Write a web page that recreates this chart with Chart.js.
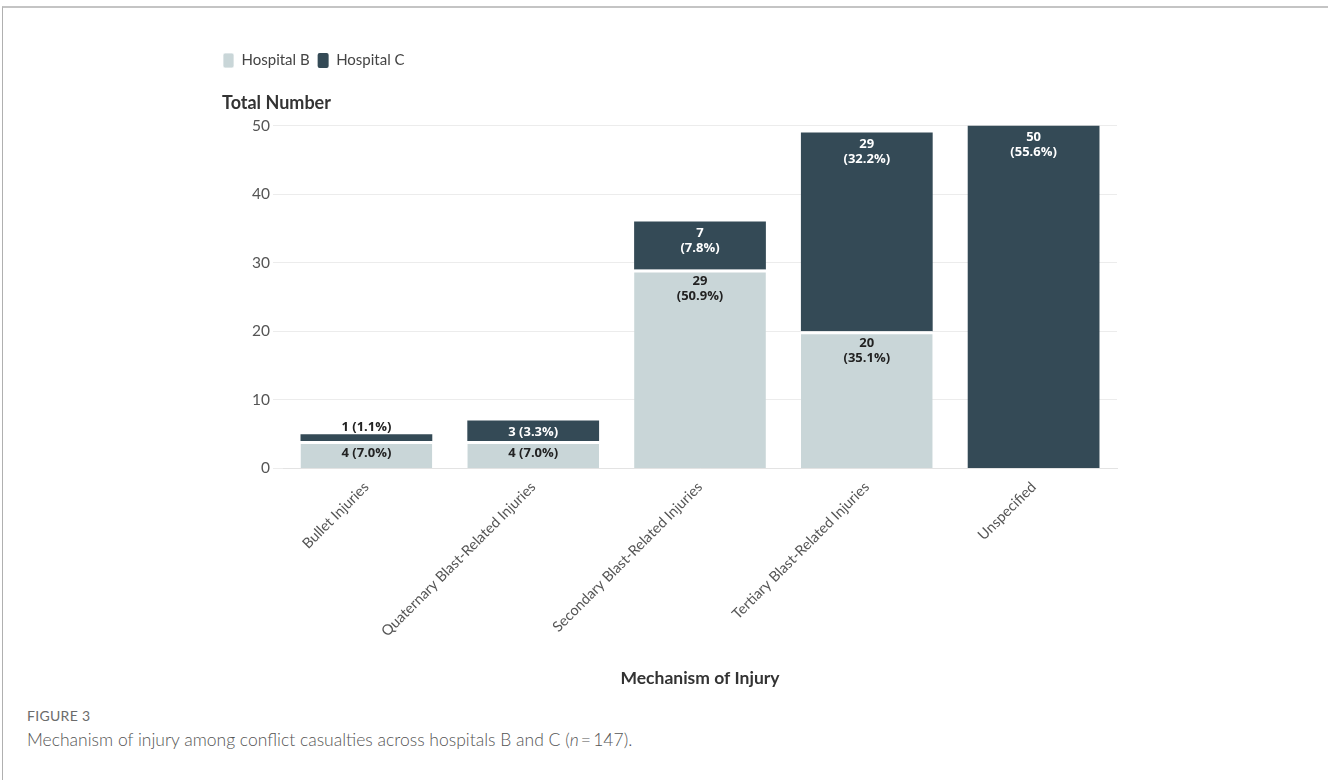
<!DOCTYPE html>
<html>
<head>
<meta charset="utf-8">
<script src="https://cdn.jsdelivr.net/npm/chart.js@4/dist/chart.umd.min.js"></script>
<style>
  html, body { margin: 0; padding: 0; background: #fff; }
  body { width: 1328px; height: 780px; position: relative; overflow: hidden; font-family: Lato, "Open Sans", sans-serif; }
  .frame { position: absolute; left: 2px; top: 6px; right: 0; bottom: 0; border-top: 2px solid #c4c4c4; border-left: 1px solid #b0b0b0; }
  .wrap { position: absolute; left: 212px; top: 45px; width: 940px; height: 648px; }
  .fig { position: absolute; left: 27px; top: 707px; font-size: 14px; color: #6b6b6b; letter-spacing: 0.3px; }
  .cap { position: absolute; left: 27px; top: 729px; font-size: 17.5px; color: #555; font-weight: 300; }
</style>
</head>
<body>
<div class="frame"></div>
<div class="wrap"><canvas id="injuryChart"></canvas></div>
<div class="fig">FIGURE 3</div>
<div class="cap">Mechanism of injury among conflict casualties across hospitals B and C (<i>n</i>&#8201;=&#8201;147).</div>

<script>
const CATEGORIES = [
  "Bullet Injuries",
  "Quaternary Blast-Related Injuries",
  "Secondary Blast-Related Injuries",
  "Tertiary Blast-Related Injuries",
  "Unspecified",
];

const HOSPITAL_B = [4, 4, 29, 20, 0];
const HOSPITAL_C = [1, 3, 7, 29, 50];

const Y_TICKS = [0, 10, 20, 30, 40, 50];

const LIGHT = "#c9d6d8";
const DARK = "#344a56";

const sum = (arr) => arr.reduce((a, b) => a + b, 0);
const TOTALS = [sum(HOSPITAL_B), sum(HOSPITAL_C)];

// labels at the top of each stacked segment
const segmentLabels = {
  id: "segmentLabels",
  afterDatasetsDraw(chart) {
    const ctx = chart.ctx;
    ctx.save();
    ctx.textAlign = "center";
    ctx.textBaseline = "middle";
    ctx.font = "bold 13px 'Open Sans', sans-serif";
    chart.data.datasets.forEach((ds, di) => {
      const meta = chart.getDatasetMeta(di);
      meta.data.forEach((bar, i) => {
        const v = ds.data[i];
        if (!v) return;
        const pct = ((v / TOTALS[di]) * 100).toFixed(1) + "%";
        const h = bar.base - bar.y;
        const x = bar.x;
        if (h < 15) {
          ctx.fillStyle = "#222";
          ctx.fillText(`${v} (${pct})`, x, bar.y - 7);
        } else if (h < 35) {
          ctx.fillStyle = di === 0 ? "#222" : "#fff";
          ctx.fillText(`${v} (${pct})`, x, bar.y + 12);
        } else {
          ctx.fillStyle = di === 0 ? "#222" : "#fff";
          ctx.fillText(`${v}`, x, bar.y + 12);
          ctx.fillText(`(${pct})`, x, bar.y + 27);
        }
      });
    });
    ctx.restore();
  },
};

// nudge the legend so its first box lines up with the axis title
const legendNudge = {
  id: "legendNudge",
  afterLayout(chart) {
    if (chart.legend) chart.legend.left -= 7;
  },
};

function initChart() {
  const canvas = document.getElementById("injuryChart");
  if (!canvas || typeof Chart === "undefined") return;

  new Chart(canvas.getContext("2d"), {
    type: "bar",
    data: {
      labels: CATEGORIES,
      datasets: [
        {
          label: "Hospital B",
          data: HOSPITAL_B,
          backgroundColor: LIGHT,
          borderColor: "#fff",
          borderWidth: { top: 3, left: 0, right: 0, bottom: 0 },
          borderSkipped: false,
        },
        {
          label: "Hospital C",
          data: HOSPITAL_C,
          backgroundColor: DARK,
          borderWidth: 0,
        },
      ],
    },
    options: {
      responsive: true,
      maintainAspectRatio: false,
      animation: false,
      categoryPercentage: 1,
      barPercentage: 0.79,
      layout: { padding: { left: 10, right: 35, top: 0, bottom: 0 } },
      scales: {
        x: {
          stacked: true,
          grid: { display: false },
          border: { display: true, color: "#e3e3e3" },
          ticks: {
            color: "#555",
            font: { size: 14.5, family: "Lato" },
            minRotation: 45,
            maxRotation: 45,
            padding: 2,
          },
          title: {
            display: true,
            text: "Mechanism of Injury",
            color: "#333",
            font: { size: 17.5, weight: "bold", family: "Lato" },
            padding: { top: 26 },
          },
        },
        y: {
          stacked: true,
          min: 0,
          max: 50,
          afterBuildTicks: (scale) => {
            scale.ticks = Y_TICKS.map((v) => ({ value: v }));
          },
          afterFit: (scale) => {
            scale.width = 61;
          },
          grid: { color: "#ececec", drawTicks: true, tickLength: 10 },
          border: { display: false },
          ticks: {
            color: "#555",
            font: { size: 15.5, family: "Lato" },
            padding: 3,
          },
        },
      },
      plugins: {
        legend: {
          position: "top",
          align: "start",
          labels: {
            boxWidth: 11,
            boxHeight: 15,
            useBorderRadius: true,
            borderRadius: 2,
            padding: 8,
            color: "#444",
            font: { size: 15, family: "Lato" },
          },
        },
        title: {
          display: true,
          text: "Total Number",
          align: "start",
          position: "top",
          weight: 500,
          color: "#333",
          font: { size: 18, weight: "bold", family: "Lato" },
          padding: { top: 14, bottom: 12 },
        },
        tooltip: { enabled: false },
      },
    },
    plugins: [segmentLabels, legendNudge],
  });
}

document.addEventListener("DOMContentLoaded", initChart);
</script>
</body>
</html>
